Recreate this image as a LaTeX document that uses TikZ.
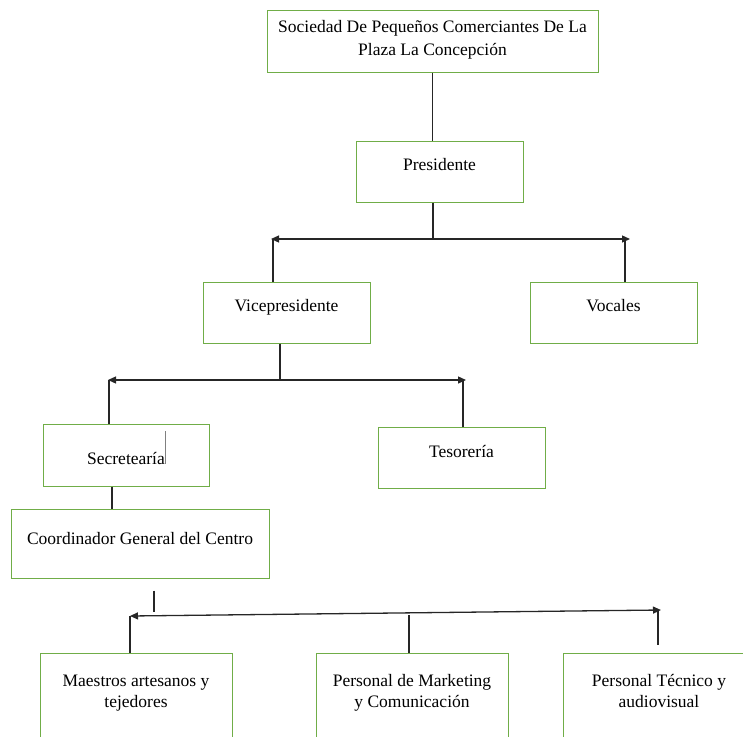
\documentclass[tikz,border=0pt]{standalone}
\usepackage{fontspec}
\setmainfont{Liberation Serif}
\usetikzlibrary{arrows.meta}
\definecolor{boxgreen}{HTML}{70AD47}
\definecolor{linegray}{HTML}{262626}

\begin{document}
\begin{tikzpicture}[x=1pt, y=-1pt,
    box/.style = {draw=boxgreen, line width=1pt, inner sep=0pt, align=center, font=\fontsize{17.5}{21}\selectfont},
    link/.style = {draw=linegray, line width=1.3pt},
    fork/.style = {link, {Triangle[length=8pt,width=7pt]}-{Triangle[length=8pt,width=7pt]}}]
    \useasboundingbox (0,0) rectangle (743,736);
    % boxes
    \node[box, minimum width=331pt, text height=45pt, text depth=17pt] (soc) at (432.5,41) {Sociedad De Pequeños Comerciantes De La\\[2pt] Plaza La Concepción};
    \node[box, minimum width=167pt, text height=29pt, text depth=32pt] (pres) at (439.5,171.5) {Presidente};
    \node[box, minimum width=167pt, text height=29pt, text depth=32pt] (vice) at (286.5,312.5) {Vicepresidente};
    \node[box, minimum width=167pt, text height=29pt, text depth=32pt] (voc) at (613.5,312.5) {Vocales};
    \node[box, minimum width=166pt, text height=40pt, text depth=22pt] (sec) at (126,455) {Secretearía};
    \node[box, minimum width=167pt, text height=30pt, text depth=31pt] (tes) at (461.5,457.5) {Tesorería};
    \node[box, minimum width=258pt, text height=35pt, text depth=34pt] (coord) at (140,543.5) {Coordinador General del Centro};
    \node[box, minimum width=192pt, text height=54pt, text depth=53pt] (maes) at (136,706.5) {Maestros artesanos y\\ tejedores};
    \node[box, minimum width=192pt, text height=54pt, text depth=53pt] (mark) at (412,706.5) {Personal de Marketing\\ y Comunicación};
    \node[box, minimum width=192pt, text height=54pt, text depth=53pt] (tec) at (659,706.5) {Personal Técnico y\\ audiovisual};
    % junction points
    \coordinate (p1) at (433,238);
    \coordinate (p1l) at (271,239);
    \coordinate (p1r) at (630,239);
    \coordinate (vl) at (273,239);
    \coordinate (vr) at (625,239);
    \coordinate (q1) at (280,380);
    \coordinate (q1l) at (108,380);
    \coordinate (q1r) at (466,380);
    \coordinate (sl) at (109,380);
    \coordinate (tr) at (463,380);
    \coordinate (bl) at (130,616);
    \coordinate (br) at (661,610);
    \coordinate (bm) at (409,615);
    \coordinate (bt) at (658,610);
    % connectors
    \draw[link] (soc.south) -- (soc.south |- pres.north);
    \draw[link] (pres.south -| p1) -- (p1);
    \draw[fork] (p1l) -- (p1r);
    \draw[link] (vl) -- (vl |- vice.north);
    \draw[link] (vr) -- (vr |- voc.north);
    \draw[link] (vice.south -| q1) -- (q1);
    \draw[fork] (q1l) -- (q1r);
    \draw[link] (sl) -- (sl |- sec.north);
    \draw[link] (tr) -- (tr |- tes.north);
    \draw[link] ([xshift=-14pt]sec.south) -- ([xshift=-14pt]sec.south |- coord.north);
    \draw[gray, line width=0.8pt] (165,431) -- (165,464);
    \draw[link] ([xshift=14pt,yshift=-12pt]coord.south) -- ++(0,21);
    \draw[fork] (bl) -- (br);
    \draw[link] (bl) -- (bl |- maes.north);
    \draw[link] (bm) -- (bm |- mark.north);
    \draw[link, shorten >=8pt] (bt) -- (bt |- tec.north);
\end{tikzpicture}
\end{document}
